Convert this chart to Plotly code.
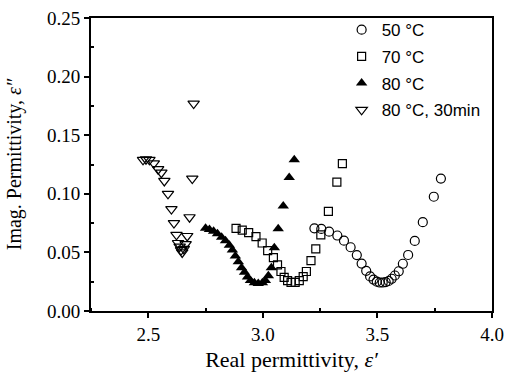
import plotly.graph_objects as go

# 50 °C
x50 = [3.225, 3.255, 3.289, 3.325, 3.354, 3.383, 3.410, 3.431, 3.451, 3.468, 3.483, 3.497,
       3.510, 3.523, 3.536, 3.549, 3.562, 3.576, 3.593, 3.611, 3.634, 3.663, 3.698, 3.746, 3.777]
y50 = [0.0705, 0.070, 0.0677, 0.0644, 0.060, 0.0544, 0.0477, 0.0405, 0.0343, 0.0295, 0.0268, 0.0250,
       0.0243, 0.0243, 0.0247, 0.0256, 0.0275, 0.0303, 0.0339, 0.0403, 0.0478, 0.0598, 0.0758, 0.0975, 0.113]

# 70 °C
x70 = [2.883, 2.910, 2.938, 2.970, 2.997, 3.021, 3.046, 3.064, 3.079, 3.093, 3.108, 3.123,
       3.141, 3.159, 3.176, 3.190, 3.210, 3.231, 3.253, 3.286, 3.323, 3.347]
y70 = [0.0705, 0.069, 0.0668, 0.0635, 0.058, 0.0515, 0.0455, 0.0393, 0.0337, 0.0287, 0.0259, 0.0245,
       0.0245, 0.0259, 0.0293, 0.0337, 0.0430, 0.053, 0.065, 0.085, 0.110, 0.1257]

# 80 °C
x80 = [2.750, 2.767, 2.785, 2.802, 2.820, 2.837, 2.854, 2.867, 2.880, 2.893, 2.907, 2.920,
       2.933, 2.946, 2.963, 2.980, 2.998, 3.011, 3.024, 3.037, 3.050, 3.067, 3.089, 3.115, 3.137]
y80 = [0.0705, 0.0695, 0.068, 0.066, 0.063, 0.060, 0.056, 0.052, 0.047, 0.042, 0.037, 0.033,
       0.029, 0.026, 0.024, 0.0235, 0.024, 0.026, 0.030, 0.037, 0.054, 0.0702, 0.0895, 0.114, 0.129]

# 80 °C, 30min
x30 = [2.477, 2.490, 2.505, 2.524, 2.543, 2.557, 2.570, 2.586, 2.601, 2.612, 2.623, 2.630,
       2.637, 2.643, 2.648, 2.655, 2.663, 2.670, 2.680, 2.692, 2.698]
y30 = [0.129, 0.1295, 0.129, 0.126, 0.121, 0.118, 0.111, 0.100, 0.087, 0.075, 0.065, 0.058,
       0.055, 0.052, 0.050, 0.053, 0.057, 0.064, 0.080, 0.113, 0.177]

names = ["50 °C", "70 °C", "80 °C", "80 °C, 30min"]

fig = go.Figure()
fig.add_trace(go.Scatter(x=x50, y=y50, mode="markers", name=names[0], legendgroup="a",
                         marker=dict(symbol="circle-open", size=9, color="black", line=dict(width=1.2))))
fig.add_trace(go.Scatter(x=x70, y=y70, mode="markers", name=names[1], legendgroup="b",
                         marker=dict(symbol="square-open", size=8, color="black", line=dict(width=1.2))))
fig.add_trace(go.Scatter(x=x80, y=y80, mode="markers", name=names[2], legendgroup="c",
                         marker=dict(symbol="triangle-up", size=10, color="black")))
fig.add_trace(go.Scatter(x=x30, y=y30, mode="markers", name=names[3], legendgroup="d",
                         marker=dict(symbol="triangle-down-open", size=10, color="black", line=dict(width=1.2))))

serif = "Liberation Serif, Times New Roman, serif"
fig.update_layout(
    width=507, height=376,
    margin=dict(l=91, r=15, t=12, b=65),
    paper_bgcolor="white", plot_bgcolor="white",
    showlegend=True,
    legend=dict(x=0.625, y=1.02, xanchor="left", yanchor="top",
                font=dict(family="Liberation Sans, Arial, sans-serif", size=17, color="black"),
                bgcolor="rgba(0,0,0,0)", itemwidth=30, tracegroupgap=1.6),
    font=dict(family=serif, color="black"),
)
fig.update_xaxes(range=[2.25, 4.0], tickvals=[2.5, 3.0, 3.5, 4.0], ticktext=["2.5", "3.0", "3.5", "4.0"],
                 automargin=False,
                 showgrid=False, zeroline=False, showline=True, linecolor="black", linewidth=2,
                 mirror=True, ticks="outside", ticklen=5, tickwidth=1.5, tickcolor="black",
                 minor=dict(tickvals=[2.25, 2.75, 3.25, 3.75], ticks="inside", ticklen=3, tickcolor="black"),
                 tickfont=dict(family=serif, size=19),
                 title=dict(text="Real permittivity, <i>ε′</i>", font=dict(family=serif, size=22), standoff=8))
fig.update_yaxes(range=[0, 0.25], tickvals=[0, 0.05, 0.10, 0.15, 0.20, 0.25],
                 ticktext=["0.00", "0.05", "0.10", "0.15", "0.20", "0.25"],
                 automargin=False,
                 showgrid=False, zeroline=False, showline=True, linecolor="black", linewidth=2,
                 mirror=True, ticks="outside", ticklen=5, tickwidth=1.5, tickcolor="black",
                 minor=dict(tickvals=[0.025, 0.075, 0.125, 0.175, 0.225], ticks="inside", ticklen=3, tickcolor="black"),
                 tickfont=dict(family=serif, size=19),
                 title=dict(text="Imag. Permittivity, <i>ε″</i>", font=dict(family=serif, size=20), standoff=20))

fig.write_html("out.html")
